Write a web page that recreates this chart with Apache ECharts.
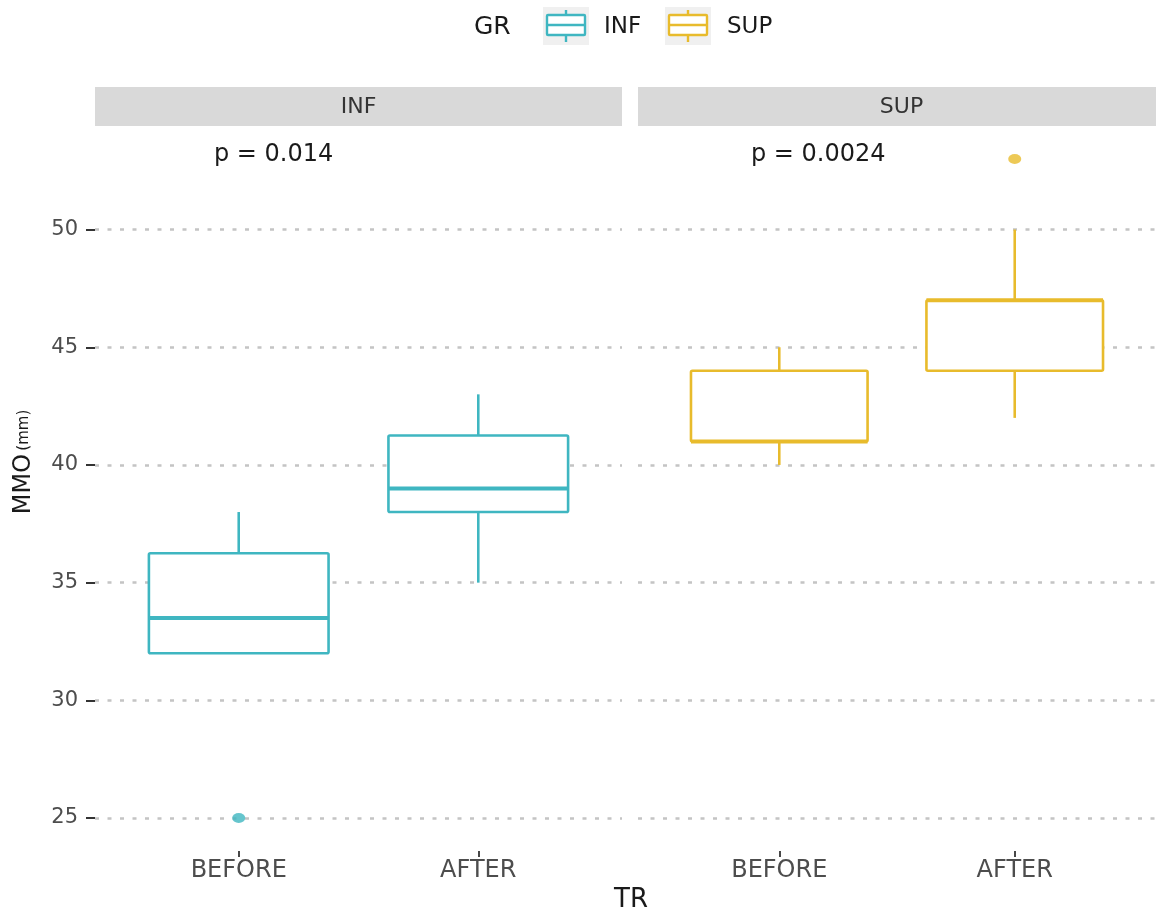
<!DOCTYPE html>
<html>
<head>
<meta charset="utf-8">
<script src="https://cdn.jsdelivr.net/npm/echarts@6/dist/echarts.min.js"></script>
<style>
html,body{margin:0;padding:0;background:#fff;}
#chart{width:1156px;height:913px;}
</style>
</head>
<body>
<div id="chart"></div>
<script>
// ---- data ----
const categories = ['BEFORE', 'AFTER'];
const panels = ['INF', 'SUP'];
// [min, Q1, median, Q3, max] per category
const infStats = [[32, 32, 33.5, 36.25, 38], [35, 38, 39, 41.25, 43]];
const supStats = [[40, 41, 41, 44, 45], [42, 44, 47, 47, 50]];
const infOutliers = [['BEFORE', 25]];
const supOutliers = [['AFTER', 53]];
const pLabels = ['p = 0.014', 'p = 0.0024'];
const yTicks = [25, 30, 35, 40, 45, 50];
const colors = ['#3fb6c1', '#e8bb2c'];

const FONT = 'DejaVu Sans';

function boxData(stats) {
  return stats.map((s, i) => [i + 1].concat(s));
}
function outlierData(list) {
  return list.map(o => [categories.indexOf(o[0]) + 1, o[1]]);
}

function renderBox(params, api) {
  const x = api.value(0);
  const lo = api.coord([x, api.value(1)]);
  const q1 = api.coord([x, api.value(2)]);
  const md = api.coord([x, api.value(3)]);
  const q3 = api.coord([x, api.value(4)]);
  const hi = api.coord([x, api.value(5)]);
  const w = api.size([0.75, 0])[0];
  const color = api.visual('color');
  const ls = {stroke: color, lineWidth: 2.6, fill: null};
  return {
    type: 'group',
    children: [
      {type: 'line', shape: {x1: hi[0], y1: hi[1], x2: q3[0], y2: q3[1]}, style: ls},
      {type: 'line', shape: {x1: lo[0], y1: lo[1], x2: q1[0], y2: q1[1]}, style: ls},
      {type: 'rect', shape: {x: q1[0] - w / 2, y: q3[1], width: w, height: q1[1] - q3[1], r: 1.5},
        style: {fill: '#ffffff', stroke: color, lineWidth: 2.6}},
      {type: 'line', shape: {x1: md[0] - w / 2, y1: md[1], x2: md[0] + w / 2, y2: md[1]},
        style: {stroke: color, lineWidth: 4}}
    ]
  };
}

const gridTop = 126, gridBottom = 62, panelW = 527;
const panelLeft = [95, 638];

function xAxisFor(i) {
  return {
    type: 'value', gridIndex: i, min: 0.4, max: 2.6,
    axisLine: {show: false},
    splitLine: {show: false},
    axisTick: {show: true, length: 6, customValues: [1, 2], lineStyle: {color: '#333', width: 1.8}},
    axisLabel: {
      customValues: [1, 2], margin: 8,
      formatter: v => categories[Math.round(v) - 1] || '',
      color: '#4d4d4d', fontSize: 24, fontFamily: FONT
    }
  };
}
function yAxisFor(i) {
  const first = i === 0;
  return {
    type: 'value', gridIndex: i, min: 23.6, max: 54.4,
    axisLine: {show: false},
    axisTick: {show: first, length: 9, customValues: yTicks, lineStyle: {color: '#333', width: 2}},
    axisLabel: {show: first, customValues: yTicks, margin: 17, color: '#4d4d4d', fontSize: 21, fontFamily: FONT},
    splitLine: {show: true, lineStyle: {color: '#c4c4c4', width: 2.6, type: [4, 8.5]}}
  };
}

const allStats = [infStats, supStats];
const allOut = [infOutliers, supOutliers];
const series = [];
panels.forEach((p, i) => {
  series.push({
    name: p, type: 'custom', xAxisIndex: i, yAxisIndex: i,
    renderItem: renderBox, itemStyle: {color: colors[i]},
    encode: {x: 0, y: [1, 2, 3, 4, 5]},
    data: boxData(allStats[i]), z: 3
  });
  series.push({
    name: p, type: 'scatter', xAxisIndex: i, yAxisIndex: i,
    symbol: 'circle', symbolSize: [13, 10],
    itemStyle: {color: colors[i]},
    data: outlierData(allOut[i]), z: 4
  });
});

const graphics = [];
// facet strips
panels.forEach((p, i) => {
  graphics.push({type: 'rect', shape: {x: panelLeft[i], y: 87, width: panelW, height: 39},
    style: {fill: '#d9d9d9'}, z: 1});
  graphics.push({type: 'text', x: panelLeft[i] + panelW / 2, y: 107,
    style: {text: p, fill: '#333', font: '22px "DejaVu Sans"', align: 'center', verticalAlign: 'middle'}, z: 2});
});
// p-value annotations
const pX = [214, 751];
pLabels.forEach((t, i) => {
  graphics.push({type: 'text', x: pX[i], y: 155,
    style: {text: t, fill: '#1a1a1a', font: '24px "DejaVu Sans"', align: 'left', verticalAlign: 'middle'}, z: 5});
});
// axis titles
graphics.push({type: 'text', x: 631, y: 900,
  style: {text: 'TR', fill: '#1a1a1a', font: '26px "DejaVu Sans"', align: 'center', verticalAlign: 'middle'}});
graphics.push({type: 'text', x: 24, y: 462, rotation: Math.PI / 2,
  style: {
    text: '{a|MMO} {b|(mm)}', align: 'center', verticalAlign: 'middle',
    rich: {
      a: {fontSize: 24, fill: '#1a1a1a', fontFamily: FONT},
      b: {fontSize: 15, fill: '#1a1a1a', fontFamily: FONT}
    }
  }});
// legend
graphics.push({type: 'text', x: 474, y: 27,
  style: {text: 'GR', fill: '#1a1a1a', font: '25px "DejaVu Sans"', align: 'left', verticalAlign: 'middle'}});
const keyX = [543, 665];
const keyTextX = [604, 727];
panels.forEach((p, i) => {
  const kx = keyX[i];
  const cx = kx + 23;
  graphics.push({type: 'rect', shape: {x: kx, y: 7, width: 46, height: 38}, style: {fill: '#f0f0f0'}});
  graphics.push({type: 'line', shape: {x1: cx, y1: 10, x2: cx, y2: 42}, style: {stroke: colors[i], lineWidth: 2.4}});
  graphics.push({type: 'rect', shape: {x: kx + 4, y: 15, width: 38, height: 20, r: 1},
    style: {fill: '#fff', stroke: colors[i], lineWidth: 2.4}});
  graphics.push({type: 'line', shape: {x1: kx + 4, y1: 25, x2: kx + 42, y2: 25}, style: {stroke: colors[i], lineWidth: 2.4}});
  graphics.push({type: 'text', x: keyTextX[i], y: 27,
    style: {text: p, fill: '#1a1a1a', font: '23px "DejaVu Sans"', align: 'left', verticalAlign: 'middle'}});
});

const chart = echarts.init(document.getElementById('chart'), null, {renderer: 'canvas'});
chart.setOption({
  backgroundColor: '#ffffff',
  animation: false,
  grid: panels.map((p, i) => ({left: panelLeft[i], top: gridTop, width: panelW, bottom: gridBottom, containLabel: false})),
  xAxis: panels.map((p, i) => xAxisFor(i)),
  yAxis: panels.map((p, i) => yAxisFor(i)),
  series: series,
  graphic: graphics
});
</script>
</body>
</html>
